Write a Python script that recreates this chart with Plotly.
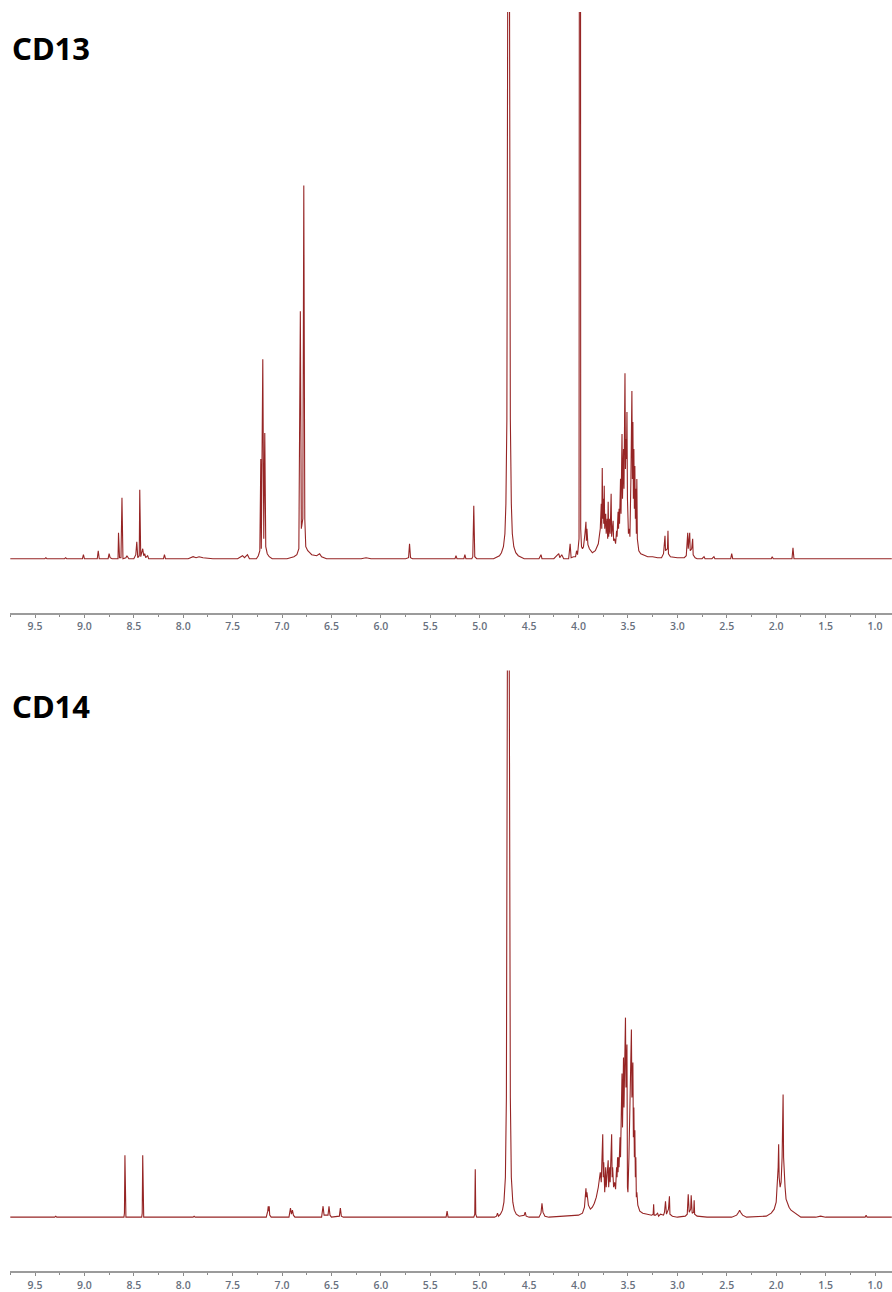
import plotly.graph_objects as go

# 1H NMR spectra: vertices (chemical shift in ppm, intensity above baseline)
cd13_points = [
    (9.75, 0), (9.40, 0), (9.39, 1), (9.38, 0), (9.20, 0), (9.19, 1), (9.18, 0),
    (9.02, 0), (9.01, 4), (9.00, 0), (8.87, 0), (8.86, 8), (8.85, 0),
    (8.76, 0), (8.75, 5), (8.74, 1), (8.72, 0),
    (8.66, 0), (8.655, 26), (8.645, 1), (8.63, 1), (8.62, 61), (8.61, 0),
    (8.58, 1), (8.57, 3), (8.55, 0),
    (8.50, 0), (8.48, 4), (8.47, 17), (8.46, 1), (8.445, 3), (8.44, 69), (8.43, 2),
    (8.41, 10), (8.40, 3), (8.39, 5), (8.38, 1), (8.36, 3), (8.35, 0),
    (8.20, 0), (8.19, 4), (8.18, 0),
    (7.95, 0), (7.90, 2), (7.87, 1), (7.84, 2), (7.80, 1), (7.70, 0),
    (7.45, 0), (7.40, 3), (7.38, 1), (7.35, 4), (7.33, 0),
    (7.26, 0), (7.24, 3), (7.225, 8), (7.215, 100), (7.21, 10), (7.195, 200),
    (7.185, 20), (7.175, 126), (7.165, 12), (7.15, 5), (7.13, 2), (7.10, 0),
    (6.95, 0), (6.88, 2), (6.85, 4), (6.83, 10), (6.815, 248), (6.805, 30),
    (6.79, 40), (6.78, 374), (6.77, 40), (6.76, 12), (6.74, 8), (6.72, 6),
    (6.70, 4), (6.65, 3), (6.62, 5), (6.60, 2), (6.55, 0),
    (6.20, 0), (6.15, 1), (6.10, 0),
    (5.75, 0), (5.72, 1), (5.71, 15), (5.70, 1), (5.68, 0),
    (5.25, 0), (5.24, 3), (5.23, 0), (5.16, 0), (5.15, 4), (5.14, 0),
    (5.08, 0), (5.07, 2), (5.06, 53), (5.05, 2), (5.03, 0),
    (4.86, 0), (4.80, 3), (4.78, 6), (4.76, 12), (4.745, 25), (4.735, 55),
    (4.725, 140), (4.716, 600), (4.712, 2000), (4.703, 2000), (4.699, 600),
    (4.69, 140), (4.68, 55), (4.67, 25), (4.655, 12), (4.635, 6),
    (4.61, 3), (4.55, 0),
    (4.40, 0), (4.38, 4), (4.37, 0),
    (4.25, 0), (4.22, 3), (4.20, 5), (4.19, 1), (4.17, 4), (4.15, 0),
    (4.10, 0), (4.085, 15), (4.075, 1), (4.05, 2), (4.03, 2), (4.02, 8),
    (4.01, 4), (3.995, 20), (3.99, 2000), (3.984, 2000), (3.978, 30),
    (3.97, 12), (3.96, 10), (3.95, 12), (3.935, 25), (3.925, 37), (3.92, 18),
    (3.915, 30), (3.905, 14), (3.89, 10), (3.86, 6), (3.83, 8), (3.80, 15),
    (3.78, 30), (3.77, 55), (3.765, 30), (3.76, 91), (3.755, 40), (3.75, 60),
    (3.745, 35), (3.74, 73), (3.735, 30), (3.725, 45), (3.72, 25), (3.71, 40),
    (3.705, 20), (3.70, 57), (3.695, 22), (3.685, 40), (3.68, 25), (3.67, 65),
    (3.665, 22), (3.655, 30), (3.65, 38), (3.645, 18), (3.635, 20),
    (3.625, 15), (3.615, 28), (3.61, 22), (3.605, 35), (3.60, 47), (3.595, 30),
    (3.59, 50), (3.585, 35), (3.575, 80), (3.57, 45), (3.565, 100),
    (3.56, 125), (3.555, 60), (3.545, 110), (3.54, 70), (3.535, 150),
    (3.53, 186), (3.525, 90), (3.52, 120), (3.515, 100), (3.51, 147),
    (3.505, 60), (3.50, 40), (3.495, 25), (3.485, 30), (3.48, 22), (3.47, 80),
    (3.465, 140), (3.46, 168), (3.455, 80), (3.45, 137), (3.445, 60),
    (3.44, 110), (3.435, 50), (3.43, 93), (3.425, 40), (3.42, 70), (3.415, 25),
    (3.41, 80), (3.405, 20), (3.40, 12), (3.39, 8), (3.37, 5), (3.33, 3),
    (3.30, 2), (3.25, 2), (3.20, 1), (3.16, 1), (3.14, 5), (3.125, 23),
    (3.12, 8), (3.10, 10), (3.095, 28), (3.09, 5), (3.07, 2), (3.00, 1),
    (2.93, 1), (2.91, 3), (2.895, 26), (2.89, 10), (2.875, 26), (2.87, 8),
    (2.855, 10), (2.845, 20), (2.84, 4), (2.82, 1), (2.80, 0),
    (2.75, 0), (2.73, 2), (2.72, 0), (2.65, 0), (2.63, 2), (2.62, 0),
    (2.46, 0), (2.45, 5), (2.44, 0), (2.05, 0), (2.04, 2), (2.03, 0),
    (1.84, 0), (1.83, 11), (1.82, 0), (0.83, 0),
]

cd14_points = [
    (9.75, 0), (9.30, 0), (9.29, 1), (9.28, 0), (8.60, 0), (8.595, 4),
    (8.59, 62), (8.585, 4), (8.58, 0), (8.42, 0), (8.415, 4), (8.41, 62),
    (8.405, 4), (8.40, 0), (7.90, 0), (7.89, 1), (7.88, 0),
    (7.16, 0), (7.145, 6), (7.14, 11), (7.135, 6), (7.13, 11), (7.125, 2),
    (7.11, 0), (6.93, 0), (6.915, 9), (6.905, 3), (6.895, 7), (6.885, 2),
    (6.87, 0), (6.60, 0), (6.585, 11), (6.575, 2), (6.535, 2), (6.525, 11),
    (6.515, 2), (6.50, 0), (6.42, 1), (6.41, 9), (6.40, 1), (6.38, 0),
    (5.34, 0), (5.33, 6), (5.32, 0), (5.06, 0), (5.05, 3), (5.045, 48),
    (5.04, 3), (5.03, 0), (4.85, 0), (4.83, 1), (4.82, 4), (4.81, 1),
    (4.79, 3), (4.77, 7), (4.755, 15), (4.74, 40), (4.73, 120),
    (4.719, 600), (4.715, 2000), (4.706, 2000), (4.702, 600), (4.69, 120),
    (4.68, 40), (4.665, 15), (4.65, 7), (4.63, 3),
    (4.60, 1), (4.55, 2), (4.54, 5), (4.53, 1), (4.50, 0), (4.40, 0),
    (4.38, 4), (4.37, 14), (4.36, 5), (4.34, 1), (4.30, 0), (4.00, 2),
    (3.96, 4), (3.94, 10), (3.925, 29), (3.92, 20), (3.915, 25), (3.90, 12),
    (3.88, 8), (3.86, 10), (3.84, 14), (3.82, 20), (3.80, 30), (3.78, 45),
    (3.77, 35), (3.76, 60), (3.755, 83), (3.75, 40), (3.745, 55),
    (3.735, 25), (3.725, 50), (3.72, 30), (3.71, 40), (3.70, 57), (3.695, 30),
    (3.685, 50), (3.68, 35), (3.67, 60), (3.665, 83), (3.66, 40), (3.655, 50),
    (3.645, 30), (3.635, 35), (3.625, 28), (3.615, 50), (3.61, 40),
    (3.605, 60), (3.60, 45), (3.595, 60), (3.59, 50), (3.58, 80), (3.575, 60),
    (3.565, 120), (3.56, 144), (3.555, 90), (3.545, 160), (3.54, 110),
    (3.53, 170), (3.525, 200), (3.52, 130), (3.515, 150), (3.51, 173),
    (3.505, 30), (3.50, 25), (3.49, 60), (3.48, 100), (3.47, 150),
    (3.465, 188), (3.46, 120), (3.455, 140), (3.45, 155), (3.445, 80),
    (3.44, 110), (3.435, 60), (3.43, 87), (3.425, 40), (3.42, 60),
    (3.415, 20), (3.41, 25), (3.40, 12), (3.38, 6), (3.35, 4), (3.30, 3),
    (3.26, 2), (3.245, 3), (3.24, 13), (3.235, 2), (3.22, 2), (3.20, 4),
    (3.19, 1), (3.17, 3), (3.14, 2), (3.13, 5), (3.12, 16), (3.11, 3),
    (3.09, 8), (3.08, 21), (3.075, 3), (3.05, 1), (3.00, 0), (2.92, 1),
    (2.90, 3), (2.89, 23), (2.88, 5), (2.865, 8), (2.86, 22), (2.85, 4),
    (2.835, 5), (2.83, 17), (2.825, 3), (2.80, 1), (2.70, 0), (2.45, 0),
    (2.40, 2), (2.38, 5), (2.37, 7), (2.36, 5), (2.34, 2), (2.30, 0),
    (2.10, 1), (2.05, 4), (2.02, 8), (2.00, 15), (1.99, 30), (1.98, 50),
    (1.975, 73), (1.97, 40), (1.96, 30), (1.95, 35), (1.94, 60),
    (1.935, 100), (1.93, 123), (1.925, 60), (1.92, 40), (1.91, 30),
    (1.90, 18), (1.89, 15), (1.87, 10), (1.85, 7), (1.82, 5), (1.78, 2),
    (1.75, 0), (1.60, 0), (1.55, 1), (1.50, 0), (1.10, 0), (1.09, 2),
    (1.08, 0), (0.83, 0),
]

sample_names = ["CD13", "CD14"]
tick_values = [9.5, 9.0, 8.5, 8.0, 7.5, 7.0, 6.5, 6.0, 5.5, 5.0,
               4.5, 4.0, 3.5, 3.0, 2.5, 2.0, 1.5, 1.0]

W, H = 892, 1292
LINE = "#962525"

fig = go.Figure()
for i, pts in enumerate([cd13_points, cd14_points]):
    sfx = "" if i == 0 else str(i + 1)
    fig.add_trace(go.Scatter(
        x=[p[0] for p in pts], y=[p[1] for p in pts],
        mode="lines", line=dict(color=LINE, width=1.1),
        xaxis="x" + sfx, yaxis="y" + sfx, showlegend=False,
        hoverinfo="skip",
    ))

# panel pixel geometry: (top of plot area, axis line)
panels = [(12, 614), (672, 1274)]
axis_style = dict(
    range=[9.753, 0.828], showline=True, linecolor="#9b9b9b", linewidth=2,
    ticks="outside", ticklen=3, tickwidth=1, tickcolor="#8a8a8a",
    tickvals=tick_values, ticktext=[f"{v:.1f}" for v in tick_values],
    tickfont=dict(family="Open Sans", size=10.5, color="#68707e",
                  weight=600),
    showgrid=False, zeroline=False, fixedrange=True,
    minor=dict(dtick=0.25, tick0=0.25, ticks="outside", ticklen=2,
               tickcolor="#8a8a8a", showgrid=False),
)
for i, (top, bottom) in enumerate(panels):
    sfx = "" if i == 0 else str(i + 1)
    fig.update_layout(**{
        "xaxis" + sfx: dict(axis_style, domain=[10 / W, 1],
                            anchor="y" + sfx),
        "yaxis" + sfx: dict(domain=[1 - bottom / H, 1 - top / H],
                            range=[-54, 548], visible=False,
                            anchor="x" + sfx, fixedrange=True),
    })
    fig.add_annotation(
        text=f"<b>{sample_names[i]}</b>", xref="paper", yref="paper",
        x=10 / W, y=1 - (top + 36) / H, xanchor="left", yanchor="middle",
        showarrow=False,
        font=dict(family="Noto Sans", size=31, color="#000000"),
    )

fig.update_layout(
    width=W, height=H, margin=dict(l=0, r=0, t=0, b=0),
    paper_bgcolor="white", plot_bgcolor="white",
)
fig.write_html("out.html")
